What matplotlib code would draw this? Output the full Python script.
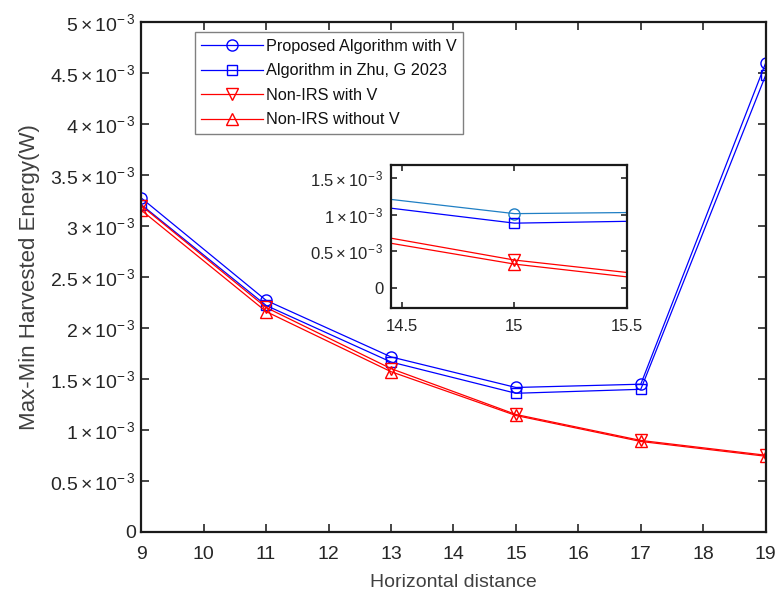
import matplotlib
matplotlib.use("Agg")
import matplotlib.pyplot as plt
from matplotlib.ticker import FuncFormatter

plt.rcParams['font.family'] = ['Liberation Sans', 'DejaVu Sans']
plt.rcParams['mathtext.fontset'] = 'custom'
plt.rcParams['mathtext.rm'] = 'Liberation Sans'
plt.rcParams['mathtext.it'] = 'Liberation Sans:italic'

# ---- data (W) ----
distance = [9, 11, 13, 15, 17, 19]
proposed = [3.275e-3, 2.27e-3, 1.715e-3, 1.415e-3, 1.447e-3, 4.60e-3]
zhu = [3.21e-3, 2.22e-3, 1.665e-3, 1.358e-3, 1.397e-3, 4.48e-3]
nonirs_v = [3.20e-3, 2.20e-3, 1.60e-3, 1.15e-3, 0.895e-3, 0.75e-3]
nonirs_nov = [3.155e-3, 2.16e-3, 1.57e-3, 1.14e-3, 0.885e-3, 0.74e-3]

labels = ['Proposed Algorithm with V', 'Algorithm in Zhu, G 2023',
          'Non-IRS with V', 'Non-IRS without V']

# inset data (read at the inset's visible range)
inset_x = [14.45, 15.0, 15.5]
inset_proposed = [1.21e-3, 1.015e-3, 1.03e-3]
inset_zhu = [1.09e-3, 0.885e-3, 0.91e-3]
inset_nonirs_v = [0.68e-3, 0.38e-3, 0.21e-3]
inset_nonirs_nov = [0.61e-3, 0.325e-3, 0.15e-3]

yticks_main = [0, 0.5e-3, 1e-3, 1.5e-3, 2e-3, 2.5e-3, 3e-3, 3.5e-3, 4e-3, 4.5e-3, 5e-3]
yticks_inset = [0, 0.5e-3, 1e-3, 1.5e-3]
xticks_main = list(range(9, 20))
xticks_inset = [14.5, 15, 15.5]


def sci_fmt(v, pos=None):
    m = round(v * 1e3, 4)
    if abs(m) < 1e-9:
        return '0'
    s = ('%g' % m)
    return r'$\mathregular{%s\times10^{-\,3}}$' % s


BLUE = '#0000ff'
RED = '#ff0000'
LBLUE = '#1f7fc4'
TXT = '#262626'

fig = plt.figure(figsize=(7.76, 5.96), dpi=100)
ax = fig.add_axes([0.182, 0.108, 0.8047, 0.8547])

ms = 8
lw = 0.9
ax.plot(distance, proposed, '-o', color=BLUE, mfc='none', ms=ms, lw=lw, label=labels[0])
ax.plot(distance, zhu, '-s', color=BLUE, mfc='none', ms=ms - 1, lw=lw, label=labels[1])
ax.plot(distance, nonirs_v, '-v', color=RED, mfc='none', ms=ms, lw=lw, label=labels[2])
ax.plot(distance, nonirs_nov, '-^', color=RED, mfc='none', ms=ms, lw=lw, label=labels[3])

ax.set_xlim(9, 19)
ax.set_ylim(0, 5e-3)
ax.set_xticks(xticks_main)
ax.set_yticks(yticks_main)
ax.yaxis.set_major_formatter(FuncFormatter(sci_fmt))
ax.tick_params(direction='in', top=True, right=True, length=6, width=1.2,
               labelsize=14, colors=TXT)
ax.tick_params(axis='x', pad=10)
ax.tick_params(axis='y', pad=4)
for sp in ax.spines.values():
    sp.set_linewidth(1.6)
    sp.set_color('#1a1a1a')
ax.set_xlabel('Horizontal distance', fontsize=14, color='#404040', labelpad=8)
ax.set_ylabel('Max-Min Harvested Energy(W)', fontsize=16, color='#404040')
ax.yaxis.set_label_coords(-0.162, 0.5)

leg = ax.legend(loc='upper left', bbox_to_anchor=(0.086, 0.98), fontsize=11.7,
                frameon=True, fancybox=False, edgecolor='#808080', framealpha=1,
                handlelength=3.8, borderpad=0.4, labelspacing=0.58, handletextpad=0.15,
                borderaxespad=0)
leg.get_frame().set_linewidth(1.0)
for t in leg.get_texts():
    t.set_color('#111111')

# ---- inset ----
axi = fig.add_axes([0.5035, 0.4827, 0.3045, 0.2404])
axi.plot(inset_x, inset_proposed, '-o', color=LBLUE, mfc='none', ms=ms, lw=lw, markevery=[1])
axi.plot(inset_x, inset_zhu, '-s', color=BLUE, mfc='none', ms=ms - 1, lw=lw, markevery=[1])
axi.plot(inset_x, inset_nonirs_v, '-v', color=RED, mfc='none', ms=ms, lw=lw, markevery=[1])
axi.plot(inset_x, inset_nonirs_nov, '-^', color=RED, mfc='none', ms=ms, lw=lw, markevery=[1])
axi.set_xlim(14.45, 15.5)
axi.set_ylim(-0.28e-3, 1.68e-3)
axi.set_xticks(xticks_inset)
axi.set_xticklabels(['14.5', '15', '15.5'])
axi.set_yticks(yticks_inset)
axi.yaxis.set_major_formatter(FuncFormatter(sci_fmt))
axi.tick_params(direction='in', top=True, right=True, length=4, width=1.2,
                labelsize=12, colors=TXT)
axi.tick_params(axis='x', pad=8)
axi.tick_params(axis='y', pad=5)
for sp in axi.spines.values():
    sp.set_linewidth(1.6)
    sp.set_color('#1a1a1a')

fig.savefig('out.png', dpi=100)
